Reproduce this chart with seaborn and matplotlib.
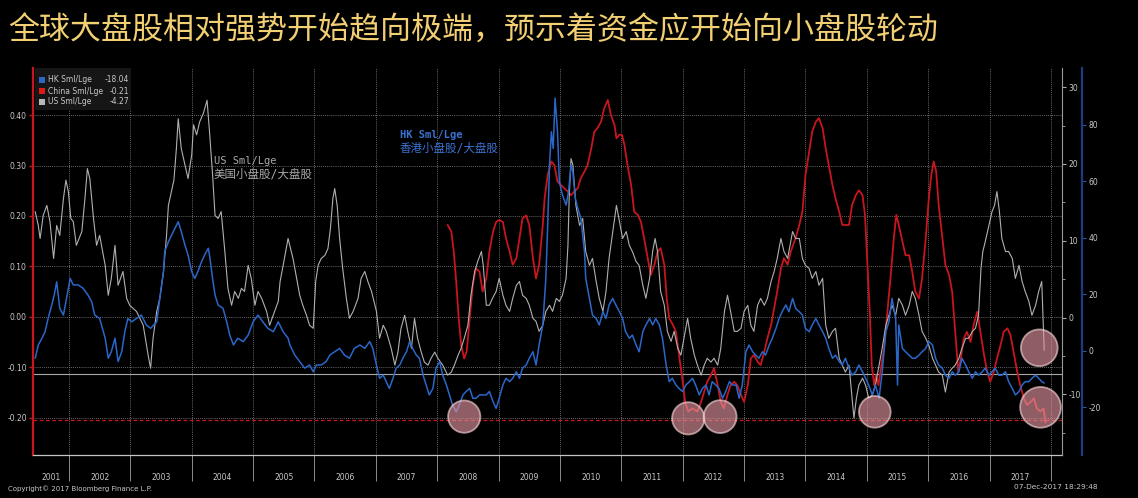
import matplotlib
matplotlib.use("Agg")
import matplotlib.pyplot as plt
import seaborn as sns
from matplotlib.patches import Rectangle

# ---------------- data ----------------
# US small/large (inner right axis)
us_t = [2001.45, 2001.50, 2001.53, 2001.58, 2001.64, 2001.69, 2001.75, 2001.80, 2001.85, 2001.91,
        2001.95, 2001.99, 2002.03, 2002.07, 2002.12, 2002.21, 2002.26, 2002.30, 2002.34, 2002.40,
        2002.45, 2002.50, 2002.59, 2002.64, 2002.69, 2002.75, 2002.80, 2002.88, 2002.94, 2002.99,
        2003.10, 2003.21, 2003.29, 2003.33, 2003.37, 2003.43, 2003.48, 2003.54, 2003.59, 2003.62,
        2003.67, 2003.71, 2003.75, 2003.78, 2003.83, 2003.89, 2003.94, 2004.00, 2004.03, 2004.08,
        2004.13, 2004.19, 2004.25, 2004.29, 2004.34, 2004.38, 2004.43, 2004.48, 2004.54, 2004.59,
        2004.65, 2004.70, 2004.76, 2004.81, 2004.86, 2004.92, 2004.97, 2005.03, 2005.08, 2005.14,
        2005.22, 2005.27, 2005.35, 2005.41, 2005.44, 2005.49, 2005.57, 2005.65, 2005.71, 2005.76,
        2005.81, 2005.87, 2005.92, 2005.98, 2006.02, 2006.06, 2006.11, 2006.17, 2006.22, 2006.26,
        2006.30, 2006.33, 2006.37, 2006.41, 2006.46, 2006.52, 2006.57, 2006.63, 2006.71, 2006.76,
        2006.82, 2006.87, 2006.93, 2007.01, 2007.06, 2007.12, 2007.17, 2007.25, 2007.31, 2007.36,
        2007.41, 2007.47, 2007.52, 2007.58, 2007.63, 2007.68, 2007.74, 2007.79, 2007.85, 2007.90,
        2007.96, 2008.01, 2008.09, 2008.17, 2008.23, 2008.28, 2008.34, 2008.39, 2008.44, 2008.50,
        2008.55, 2008.61, 2008.66, 2008.72, 2008.75, 2008.80, 2008.85, 2008.90, 2008.96, 2009.01,
        2009.07, 2009.12, 2009.18, 2009.23, 2009.29, 2009.34, 2009.39, 2009.45, 2009.50, 2009.56,
        2009.61, 2009.66, 2009.72, 2009.77, 2009.83, 2009.88, 2009.94, 2009.99, 2010.04, 2010.10,
        2010.13, 2010.15, 2010.18, 2010.21, 2010.26, 2010.32, 2010.37, 2010.42, 2010.48, 2010.53,
        2010.59, 2010.64, 2010.70, 2010.75, 2010.80, 2010.86, 2010.92, 2010.97, 2011.02, 2011.08,
        2011.13, 2011.18, 2011.24, 2011.29, 2011.35, 2011.40, 2011.46, 2011.51, 2011.55, 2011.59,
        2011.64, 2011.70, 2011.75, 2011.81, 2011.86, 2011.92, 2011.97, 2012.02, 2012.08, 2012.13,
        2012.19, 2012.24, 2012.30, 2012.35, 2012.40, 2012.46, 2012.51, 2012.57, 2012.62, 2012.68,
        2012.73, 2012.78, 2012.84, 2012.89, 2012.95, 2013.00, 2013.06, 2013.11, 2013.16, 2013.22,
        2013.27, 2013.33, 2013.38, 2013.44, 2013.49, 2013.54, 2013.60, 2013.65, 2013.71, 2013.79,
        2013.84, 2013.90, 2013.95, 2014.00, 2014.06, 2014.11, 2014.17, 2014.22, 2014.28, 2014.33,
        2014.38, 2014.44, 2014.49, 2014.55, 2014.60, 2014.65, 2014.71, 2014.76, 2014.79, 2014.83,
        2014.87, 2014.93, 2014.98, 2015.03, 2015.09, 2015.14, 2015.20, 2015.25, 2015.31, 2015.36,
        2015.41, 2015.47, 2015.52, 2015.58, 2015.63, 2015.69, 2015.74, 2015.79, 2015.85, 2015.90,
        2015.96, 2016.01, 2016.07, 2016.12, 2016.17, 2016.23, 2016.28, 2016.34, 2016.39, 2016.44,
        2016.50, 2016.55, 2016.61, 2016.66, 2016.72, 2016.77, 2016.82, 2016.86, 2016.89, 2016.93,
        2016.99, 2017.04, 2017.08, 2017.12, 2017.16, 2017.20, 2017.26, 2017.31, 2017.37, 2017.42,
        2017.48, 2017.53, 2017.58, 2017.64, 2017.69, 2017.75, 2017.80, 2017.85, 2017.88, 2017.89]
us_v = [13.8, 12.0, 10.3, 13.3, 14.6, 12.5, 7.7, 12.0, 10.7, 15.5,
        17.9, 16.4, 12.9, 12.5, 9.4, 11.2, 15.5, 19.4, 18.1, 12.9,
        9.4, 10.7, 6.8, 2.9, 5.1, 9.4, 4.2, 6.0, 2.5, 1.6,
        0.8, -1.0, -4.9, -6.6, -2.7, 0.8, 2.5, 6.0, 10.7, 14.6,
        16.4, 17.9, 22.0, 25.9, 22.0, 19.9, 18.1, 21.2, 25.1, 23.8,
        25.5, 26.6, 28.3, 24.2, 18.6, 13.3, 12.9, 13.8, 8.6, 3.8,
        1.6, 3.4, 2.5, 3.8, 3.4, 6.8, 5.1, 1.6, 3.4, 2.5,
        0.8, -1.0, 0.8, 2.1, 4.7, 6.8, 10.3, 7.7, 5.1, 2.9,
        1.6, 0.3, -1.0, -1.4, 4.7, 6.8, 7.7, 8.1, 9.0, 11.6,
        15.5, 16.8, 14.6, 10.3, 6.4, 2.5, -0.1, 0.8, 2.5, 5.1,
        6.0, 4.7, 3.4, 0.8, -2.7, -1.0, -1.8, -4.0, -6.2, -4.5,
        -1.4, 0.3, -1.8, -4.0, -0.1, -2.7, -4.5, -5.8, -6.2, -5.3,
        -4.5, -5.3, -6.2, -7.5, -7.1, -6.2, -4.9, -4.0, -2.7, -1.0,
        2.9, 6.0, 7.3, 8.6, 6.8, 1.6, 1.6, 2.5, 3.4, 5.1,
        2.9, 1.6, 0.8, 2.5, 4.2, 4.7, 2.9, 2.5, 1.6, -0.1,
        -0.5, -1.8, -1.0, 0.8, 1.6, 0.8, 2.5, 2.1, 2.9, 5.1,
        9.4, 15.5, 20.7, 19.9, 14.6, 12.0, 12.9, 8.6, 6.8, 7.7,
        4.7, 2.5, 0.8, 3.4, 7.7, 11.2, 14.6, 12.5, 10.3, 11.2,
        9.4, 8.6, 7.3, 6.8, 4.2, 2.5, 5.1, 8.6, 10.3, 8.6,
        3.4, 1.6, -1.8, -3.1, -1.8, -4.0, -4.9, -2.7, -0.1, -2.7,
        -4.9, -6.2, -7.5, -6.2, -5.3, -5.8, -5.3, -6.2, -4.0, 0.8,
        2.9, 0.8, -1.8, -1.8, -1.4, 0.8, 1.6, -1.0, -1.8, 1.6,
        2.5, 1.6, 2.5, 4.7, 6.0, 7.7, 10.3, 8.6, 7.7, 11.2,
        10.3, 10.3, 7.7, 6.8, 6.4, 5.1, 6.0, 4.2, 5.1, -1.0,
        -2.7, -1.8, -1.4, -5.3, -6.2, -7.1, -6.2, -10.5, -13.1, -10.5,
        -8.8, -7.9, -8.8, -10.5, -10.1, -8.8, -6.2, -4.0, -1.0, 0.3,
        1.6, 0.3, 2.5, 1.6, 0.3, 1.6, 3.4, 2.5, 0.3, -1.8,
        -2.7, -3.6, -5.3, -6.2, -7.1, -7.5, -9.7, -7.1, -6.6, -6.2,
        -5.3, -4.0, -2.7, -2.7, -1.8, -1.4, 0.3, 6.4, 8.6, 9.9,
        12.0, 13.8, 14.6, 16.4, 13.8, 10.3, 8.6, 8.6, 7.7, 5.1,
        6.8, 4.7, 3.4, 2.1, 0.3, 1.6, 3.4, 4.7, -2.0, -4.27]

# HK small/large (outer right axis)
hk_t = [2001.45, 2001.50, 2001.56, 2001.61, 2001.66, 2001.72, 2001.76, 2001.80, 2001.85, 2001.91,
        2001.96, 2002.02, 2002.07, 2002.15, 2002.23, 2002.31, 2002.37, 2002.42, 2002.50, 2002.59,
        2002.64, 2002.69, 2002.75, 2002.80, 2002.86, 2002.91, 2002.96, 2003.02, 2003.10, 2003.18,
        2003.26, 2003.33, 2003.43, 2003.48, 2003.54, 2003.56, 2003.62, 2003.70, 2003.78, 2003.83,
        2003.89, 2003.94, 2004.00, 2004.05, 2004.10, 2004.16, 2004.21, 2004.27, 2004.29, 2004.34,
        2004.38, 2004.43, 2004.51, 2004.57, 2004.62, 2004.68, 2004.75, 2004.84, 2004.92, 2005.00,
        2005.08, 2005.16, 2005.24, 2005.33, 2005.41, 2005.49, 2005.57, 2005.60, 2005.68, 2005.76,
        2005.84, 2005.92, 2005.98, 2006.03, 2006.11, 2006.19, 2006.25, 2006.33, 2006.41, 2006.49,
        2006.57, 2006.65, 2006.74, 2006.82, 2006.90, 2006.95, 2007.01, 2007.06, 2007.12, 2007.17,
        2007.22, 2007.28, 2007.33, 2007.39, 2007.44, 2007.50, 2007.55, 2007.60, 2007.66, 2007.71,
        2007.77, 2007.82, 2007.87, 2007.93, 2007.98, 2008.04, 2008.09, 2008.15, 2008.20, 2008.25,
        2008.31, 2008.36, 2008.42, 2008.47, 2008.53, 2008.58, 2008.63, 2008.69, 2008.74, 2008.80,
        2008.85, 2008.91, 2008.96, 2009.01, 2009.07, 2009.12, 2009.18, 2009.23, 2009.29, 2009.34,
        2009.39, 2009.45, 2009.50, 2009.56, 2009.61, 2009.66, 2009.72, 2009.77, 2009.80, 2009.83,
        2009.86, 2009.89, 2009.92, 2009.96, 2009.99, 2010.04, 2010.10, 2010.14, 2010.18, 2010.21,
        2010.25, 2010.29, 2010.34, 2010.40, 2010.42, 2010.48, 2010.53, 2010.59, 2010.64, 2010.70,
        2010.75, 2010.80, 2010.86, 2010.91, 2010.97, 2011.02, 2011.07, 2011.13, 2011.18, 2011.24,
        2011.29, 2011.35, 2011.40, 2011.46, 2011.51, 2011.56, 2011.62, 2011.67, 2011.73, 2011.78,
        2011.83, 2011.89, 2011.94, 2012.00, 2012.05, 2012.11, 2012.16, 2012.21, 2012.27, 2012.32,
        2012.38, 2012.43, 2012.48, 2012.54, 2012.59, 2012.65, 2012.70, 2012.76, 2012.81, 2012.87,
        2012.92, 2012.97, 2013.03, 2013.08, 2013.14, 2013.19, 2013.24, 2013.30, 2013.35, 2013.41,
        2013.46, 2013.52, 2013.57, 2013.62, 2013.68, 2013.73, 2013.79, 2013.84, 2013.90, 2013.95,
        2014.00, 2014.06, 2014.11, 2014.17, 2014.22, 2014.28, 2014.33, 2014.38, 2014.44, 2014.49,
        2014.55, 2014.60, 2014.65, 2014.71, 2014.76, 2014.82, 2014.87, 2014.93, 2014.98, 2015.03,
        2015.09, 2015.14, 2015.20, 2015.25, 2015.31, 2015.36, 2015.41, 2015.47, 2015.50, 2015.52,
        2015.58, 2015.63, 2015.69, 2015.74, 2015.79, 2015.85, 2015.90, 2015.96, 2016.01, 2016.07,
        2016.12, 2016.17, 2016.23, 2016.28, 2016.34, 2016.39, 2016.44, 2016.50, 2016.55, 2016.61,
        2016.66, 2016.72, 2016.77, 2016.82, 2016.88, 2016.93, 2016.99, 2017.04, 2017.09, 2017.15,
        2017.20, 2017.26, 2017.31, 2017.37, 2017.42, 2017.48, 2017.53, 2017.58, 2017.64, 2017.69,
        2017.75, 2017.80, 2017.85, 2017.89]
hk_v = [-2.7, 2.0, 4.4, 6.7, 11.4, 16.2, 19.7, 24.4, 15.0, 12.6,
        18.5, 25.6, 23.3, 23.3, 22.1, 19.7, 17.3, 12.6, 11.4, 4.4,
        -2.7, -0.4, 4.4, -3.9, -0.4, 6.7, 11.4, 10.2, 11.4, 12.6,
        9.1, 7.9, 10.2, 18.5, 28.0, 35.1, 38.6, 42.2, 45.7, 42.2,
        37.4, 33.9, 28.0, 25.6, 28.0, 31.5, 33.9, 36.3, 33.9, 25.6,
        19.7, 16.2, 15.0, 10.2, 5.5, 2.0, 4.4, 3.2, 5.5, 10.2,
        12.6, 10.2, 7.9, 6.7, 10.2, 6.7, 4.4, 2.0, -1.6, -3.9,
        -6.2, -5.1, -7.5, -5.1, -5.1, -3.9, -1.6, -0.4, 0.8, -1.6,
        -2.7, 0.8, 2.0, 0.8, 3.2, 0.8, -5.1, -9.8, -8.7, -11.0,
        -13.4, -9.8, -6.2, -5.1, -2.7, -0.4, 3.2, 0.8, -1.6, -2.7,
        -8.7, -12.2, -15.7, -13.4, -6.2, -3.9, -8.7, -12.2, -15.7, -19.3,
        -21.7, -19.3, -15.7, -14.5, -13.4, -16.9, -16.9, -15.7, -15.7, -15.7,
        -14.5, -18.1, -20.5, -16.9, -12.2, -9.8, -11.0, -9.8, -7.5, -9.8,
        -6.2, -5.1, -2.7, -0.4, -5.1, 2.0, 9.1, 25.6, 44.5, 65.8,
        77.6, 71.7, 89.5, 77.6, 59.9, 55.2, 51.6, 56.3, 65.8, 63.4,
        54.0, 50.5, 46.9, 35.1, 25.6, 18.5, 12.6, 11.4, 9.1, 13.8,
        11.4, 16.2, 18.5, 16.2, 13.8, 11.4, 6.7, 4.4, 5.5, 2.0,
        -0.4, 6.7, 9.1, 11.4, 9.1, 11.4, 9.1, 4.4, -5.1, -11.0,
        -9.8, -12.2, -13.4, -14.5, -12.2, -11.0, -9.8, -12.2, -15.7, -13.4,
        -12.2, -15.7, -11.0, -12.2, -13.4, -16.9, -14.5, -11.0, -12.2, -12.2,
        -16.9, -12.2, -0.4, 2.0, -0.4, -1.6, -2.7, -0.4, -1.6, 2.0,
        4.4, 7.9, 11.4, 13.8, 16.2, 13.8, 18.5, 15.0, 13.8, 12.6,
        7.9, 6.7, 9.1, 11.4, 9.1, 6.7, 4.4, 0.8, -2.7, -1.6,
        -3.9, -5.1, -2.7, -6.2, -8.7, -7.5, -5.1, -7.5, -9.8, -12.2,
        -15.7, -12.2, -16.9, -7.5, 6.7, 10.2, 18.5, 11.4, -12.2, 9.1,
        0.8, -0.4, -1.6, -2.7, -2.7, -1.6, -0.4, 0.8, 3.2, 2.0,
        -2.7, -5.1, -6.2, -8.7, -9.8, -7.5, -8.7, -7.5, -2.7, -5.1,
        -7.5, -9.8, -7.5, -8.7, -7.5, -6.2, -8.7, -7.5, -6.2, -8.7,
        -8.7, -7.5, -11.0, -13.4, -15.7, -14.5, -12.2, -11.0, -11.0, -9.8,
        -8.7, -9.8, -11.0, -11.5]

# China small/large (left axis)
cn_t = [2008.17, 2008.23, 2008.27, 2008.31, 2008.35, 2008.39, 2008.44, 2008.48, 2008.53, 2008.58,
        2008.63, 2008.69, 2008.74, 2008.80, 2008.85, 2008.91, 2008.96, 2009.01, 2009.07, 2009.12,
        2009.18, 2009.23, 2009.29, 2009.34, 2009.39, 2009.45, 2009.50, 2009.56, 2009.61, 2009.66,
        2009.72, 2009.75, 2009.80, 2009.86, 2009.91, 2009.96, 2010.02, 2010.07, 2010.13, 2010.18,
        2010.23, 2010.29, 2010.34, 2010.40, 2010.45, 2010.51, 2010.56, 2010.61, 2010.67, 2010.72,
        2010.78, 2010.83, 2010.89, 2010.92, 2010.97, 2011.01, 2011.05, 2011.10, 2011.16, 2011.21,
        2011.27, 2011.32, 2011.37, 2011.43, 2011.48, 2011.54, 2011.59, 2011.64, 2011.70, 2011.74,
        2011.78, 2011.84, 2011.89, 2011.94, 2012.00, 2012.04, 2012.09, 2012.16, 2012.24, 2012.30,
        2012.35, 2012.40, 2012.46, 2012.51, 2012.57, 2012.62, 2012.67, 2012.73, 2012.78, 2012.84,
        2012.89, 2012.95, 2013.00, 2013.06, 2013.11, 2013.16, 2013.22, 2013.27, 2013.33, 2013.38,
        2013.44, 2013.49, 2013.54, 2013.60, 2013.65, 2013.71, 2013.76, 2013.84, 2013.90, 2013.95,
        2014.00, 2014.06, 2014.11, 2014.17, 2014.22, 2014.28, 2014.33, 2014.38, 2014.44, 2014.49,
        2014.55, 2014.60, 2014.65, 2014.71, 2014.76, 2014.82, 2014.87, 2014.93, 2014.97, 2015.01,
        2015.05, 2015.08, 2015.12, 2015.15, 2015.19, 2015.22, 2015.28, 2015.33, 2015.39, 2015.44,
        2015.48, 2015.52, 2015.58, 2015.63, 2015.69, 2015.74, 2015.79, 2015.85, 2015.90, 2015.96,
        2016.01, 2016.05, 2016.09, 2016.13, 2016.17, 2016.23, 2016.28, 2016.34, 2016.39, 2016.44,
        2016.49, 2016.53, 2016.58, 2016.63, 2016.69, 2016.74, 2016.80, 2016.85, 2016.91, 2016.96,
        2017.01, 2017.07, 2017.12, 2017.18, 2017.23, 2017.29, 2017.34, 2017.39, 2017.45, 2017.50,
        2017.56, 2017.61, 2017.67, 2017.72, 2017.77, 2017.83, 2017.88, 2017.91]
cn_v = [0.182, 0.169, 0.129, 0.069, -0.003, -0.056, -0.083, -0.069, -0.003, 0.063,
        0.096, 0.089, 0.050, 0.076, 0.129, 0.169, 0.188, 0.192, 0.188, 0.156,
        0.129, 0.103, 0.116, 0.156, 0.195, 0.201, 0.182, 0.116, 0.076, 0.103,
        0.182, 0.235, 0.281, 0.308, 0.301, 0.268, 0.261, 0.255, 0.248, 0.241,
        0.248, 0.255, 0.275, 0.288, 0.301, 0.334, 0.367, 0.374, 0.387, 0.413,
        0.430, 0.400, 0.380, 0.354, 0.361, 0.361, 0.341, 0.301, 0.261, 0.208,
        0.202, 0.188, 0.156, 0.116, 0.083, 0.103, 0.129, 0.136, 0.103, 0.036,
        -0.003, -0.016, -0.030, -0.076, -0.129, -0.169, -0.188, -0.182, -0.188, -0.169,
        -0.149, -0.129, -0.116, -0.102, -0.136, -0.169, -0.182, -0.155, -0.136, -0.129,
        -0.136, -0.155, -0.169, -0.136, -0.083, -0.076, -0.089, -0.096, -0.069, -0.043,
        -0.016, 0.017, 0.050, 0.096, 0.116, 0.103, 0.129, 0.156, 0.182, 0.208,
        0.281, 0.327, 0.367, 0.387, 0.394, 0.374, 0.334, 0.301, 0.261, 0.235,
        0.208, 0.182, 0.182, 0.182, 0.222, 0.241, 0.251, 0.241, 0.202, 0.103,
        0.003, -0.096, -0.136, -0.116, -0.136, -0.109, -0.063, 0.003, 0.083, 0.156,
        0.202, 0.182, 0.149, 0.122, 0.122, 0.089, 0.050, 0.036, 0.076, 0.156,
        0.235, 0.281, 0.308, 0.288, 0.222, 0.156, 0.103, 0.083, 0.050, -0.030,
        -0.109, -0.083, -0.043, -0.030, -0.050, -0.016, 0.010, -0.030, -0.076, -0.109,
        -0.129, -0.109, -0.083, -0.056, -0.030, -0.023, -0.036, -0.069, -0.109, -0.136,
        -0.162, -0.175, -0.169, -0.162, -0.182, -0.188, -0.182, -0.21]

assert len(us_t) == len(us_v) and len(hk_t) == len(hk_v) and len(cn_t) == len(cn_v)

legend_names = ["HK Sml/Lge", "China Sml/Lge", "US Sml/Lge"]
legend_values = ["-18.04", "-0.21", "-4.27"]

left_ticks = [-0.20, -0.10, 0.00, 0.10, 0.20, 0.30, 0.40]
us_ticks = [-10, 0, 10, 20, 30]
us_minor = [-15, -5, 5, 15, 25]
hk_ticks = [-20, 0, 20, 40, 60, 80]
year_bounds = list(range(2002, 2019))
year_labels = [str(y) for y in range(2001, 2018)]
year_label_pos = [2001.71] + [y + 0.5 for y in range(2002, 2018)]

# highlight circles (year, HK-axis value, marker size)
circ_t = [2008.44, 2012.09, 2012.61, 2015.13, 2017.81, 2017.83]
circ_v = [-23.4, -24.0, -23.4, -21.7, 1.0, -20.1]
circ_s = [540, 540, 560, 520, 700, 860]

title = "全球大盘股相对强势开始趋向极端，预示着资金应开始向小盘股轮动"

# ---------------- style ----------------
HK_C = "#2b67c9"
CN_C = "#c8161e"
US_C = "#b0b0b0"
TXT = "#c8c8c8"
GRID = "#8a8a8a"

sns.set_theme(style="dark", rc={"axes.facecolor": "black", "figure.facecolor": "black"})
plt.rcParams["font.family"] = ["DejaVu Sans", "Noto Sans CJK SC"]

W, H = 1138, 498
def fx(x):
    return x / W
def fy(y):
    return 1 - y / H

fig = plt.figure(figsize=(W / 100, H / 100), dpi=100)
fig.patch.set_facecolor("black")
ax = fig.add_axes([fx(33), fy(455), fx(1062) - fx(33), fy(68) - fy(455)])
ax.set_facecolor("black")
ax2 = ax.twinx()
ax3 = ax.twinx()

sns.lineplot(x=cn_t, y=cn_v, ax=ax, color=CN_C, linewidth=1.3, zorder=3)
sns.lineplot(x=us_t, y=us_v, ax=ax2, color=US_C, linewidth=0.8, zorder=3)
sns.lineplot(x=hk_t, y=hk_v, ax=ax3, color=HK_C, linewidth=1.1, zorder=3)

ax.set_xlim(2001.414, 2018.18)
ax.set_ylim(-0.2744, 0.4935)
ax2.set_ylim(-17.9, 32.5)
ax3.set_ylim(-37.0, 100.2)

for a in (ax, ax2, ax3):
    a.grid(False)
    a.set_xlabel("")
    a.set_ylabel("")
    for s in a.spines.values():
        s.set_visible(False)

ax.spines["left"].set_visible(True)
ax.spines["left"].set_color(CN_C)
ax.spines["left"].set_linewidth(1.6)
ax.spines["bottom"].set_visible(True)
ax.spines["bottom"].set_color("#c4c4c4")
ax.spines["bottom"].set_linewidth(0.9)
ax2.spines["right"].set_visible(True)
ax2.spines["right"].set_color("#9a9a9a")
ax2.spines["right"].set_linewidth(0.8)
ax3.spines["right"].set_visible(True)
ax3.spines["right"].set_position(("outward", 14.5))
ax3.spines["right"].set_color("#1d3c80")
ax3.spines["right"].set_linewidth(1.6)

# y ticks
ax.set_yticks(left_ticks)
ax.set_yticklabels([f"{v:.2f}" for v in left_ticks])
ax.tick_params(axis="y", left=True, color=CN_C, labelcolor=TXT, length=3, width=1,
               labelsize=5.5, pad=1.5)
ax2.set_yticks(us_ticks)
ax2.set_yticks(us_minor, minor=True)
ax2.set_yticklabels([str(v) for v in us_ticks])
ax2.tick_params(axis="y", which="major", right=True, color="#aaaaaa", labelcolor=TXT,
                length=3, width=0.8, labelsize=5.5, pad=1.5)
ax2.tick_params(axis="y", which="minor", right=True, color="#aaaaaa", length=2, width=0.6)
ax3.set_yticks(hk_ticks)
ax3.set_yticklabels([str(v) for v in hk_ticks])
ax3.tick_params(axis="y", right=True, color="#2a58a8", labelcolor=TXT, length=3,
                width=0.8, labelsize=5.5, pad=1.5)

# x ticks: year separators + centred year labels
ax.set_xticks(year_bounds)
ax.set_xticklabels([""] * len(year_bounds))
ax.set_xticks(year_label_pos, minor=True)
ax.set_xticklabels(year_labels, minor=True)
ax.tick_params(axis="x", which="major", bottom=True, length=19, color="#8c8c8c",
               width=0.7, direction="out")
ax.tick_params(axis="x", which="minor", bottom=True, length=0, labelcolor=TXT,
               labelsize=5.5, pad=13)

# grid lines
for v in left_ticks:
    ax.axhline(v, color=GRID, lw=0.6, ls=(0, (1, 1.5)), zorder=1)
for yb in year_bounds:
    ax.axvline(yb, color=GRID, lw=0.6, ls=(0, (1, 1.5)), zorder=1)
ax.axhline(-0.114, color="#a8a8a8", lw=0.8, zorder=1)
ax.axhline(-0.205, color=CN_C, lw=0.9, ls=(0, (3, 2)), zorder=1)

# highlight circles
ax3.scatter(circ_t, circ_v, s=circ_s, facecolor="#e898a2", edgecolor="#f8d8dc",
            linewidths=1.3, alpha=0.62, zorder=10)

# legend box
fig.add_artist(Rectangle((fx(35), fy(110)), fx(131) - fx(35), fy(68) - fy(110),
                         transform=fig.transFigure, facecolor="#161616",
                         edgecolor="none", zorder=5))
leg_colors = [HK_C, "#e01818", "#b8b8b8"]
for i, (nm, val, c) in enumerate(zip(legend_names, legend_values, leg_colors)):
    yc = 80 + i * 11
    fig.add_artist(Rectangle((fx(39), fy(yc + 3)), fx(6), fy(0) - fy(6),
                             transform=fig.transFigure, facecolor=c,
                             edgecolor="none", zorder=6))
    fig.text(fx(48), fy(yc), nm, color=TXT, fontsize=5.5, va="center", ha="left", zorder=7)
    fig.text(fx(129), fy(yc), val, color=TXT, fontsize=5.5, va="center", ha="right", zorder=7)

# series annotations
mono = ["DejaVu Sans Mono", "Noto Sans CJK SC"]
fig.text(fx(214), fy(161), "US Sml/Lge", color="#a8a8a8", fontsize=7.5, family=mono,
         va="center", ha="left")
fig.text(fx(214), fy(174), "美国小盘股/大盘股", color="#a8a8a8", fontsize=8.3, family=mono,
         va="center", ha="left")
fig.text(fx(400), fy(135), "HK Sml/Lge", color="#3a72d0", fontsize=7.5, family=mono,
         va="center", ha="left", fontweight="bold")
fig.text(fx(400), fy(148), "香港小盘股/大盘股", color="#3a72d0", fontsize=8.3, family=mono,
         va="center", ha="left")

# title and footer
fig.text(fx(8), fy(31), title, color="#f2cf73", fontsize=22.3,
         family=["Noto Sans CJK SC", "DejaVu Sans"], va="center", ha="left")
fig.text(fx(8), fy(489), "Copyright\u00a9 2017 Bloomberg Finance L.P.", color=TXT,
         fontsize=5, va="center", ha="left")
fig.text(fx(1098), fy(487), "07-Dec-2017 18:29:48", color=TXT, fontsize=5.3,
         va="center", ha="right")

fig.savefig("out.png", dpi=100, facecolor="black")
